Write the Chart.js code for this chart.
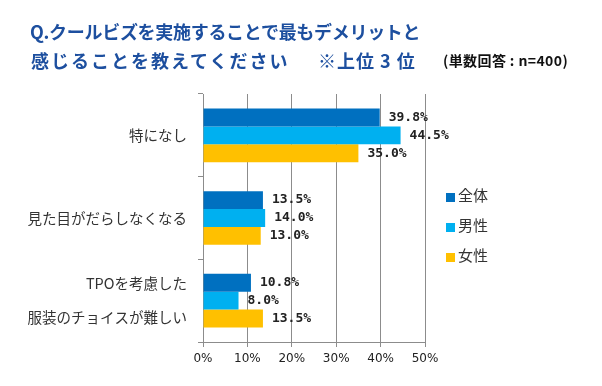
<!DOCTYPE html>
<html>
<head>
<meta charset="utf-8">
<script src="https://cdn.jsdelivr.net/npm/chart.js@4"></script>
<style>
  body { margin: 0; background: #fff; }
  #wrap { position: relative; width: 602px; height: 386px; }
  .ttl { position: absolute; left: 30px; font-family: "Noto Sans CJK JP", sans-serif; font-weight: bold; color: #1d4f9f; font-size: 18px; line-height: 1; white-space: nowrap; }
  .note { font-size: 14px; color: #111; letter-spacing: 0.4px; }
</style>
</head>
<body>
<div id="wrap">
  <div class="ttl" style="top:22px;letter-spacing:-0.3px">Q.クールビズを実施することで最もデメリットと</div>
  <div class="ttl" style="top:51px;left:31px;letter-spacing:2px">感じることを教えてください</div>
  <div class="ttl" style="top:51px;left:318px;letter-spacing:1px">※上位 3 位</div>
  <div class="ttl note" style="top:53px;left:443px">(単数回答 : n=400)</div>
  <canvas id="chart" width="602" height="386"></canvas>
</div>
<script>
const categories = ['特になし', '見た目がだらしなくなる', ['TPOを考慮した', '服装のチョイスが難しい']];
const seriesNames = ['全体', '男性', '女性'];
const allValues = [39.8, 13.5, 10.8];
const maleValues = [44.5, 14.0, 8.0];
const femaleValues = [35.0, 13.0, 13.5];
const xTicks = [0, 10, 20, 30, 40, 50];
const colors = ['#0070c0', '#00b0f0', '#ffc000'];

// value labels to the right of each bar
const valueLabels = {
  id: 'valueLabels',
  afterDatasetsDraw(chart) {
    const ctx = chart.ctx;
    ctx.save();
    ctx.font = 'bold 13px "DejaVu Sans Mono"';
    ctx.fillStyle = '#222';
    ctx.textBaseline = 'middle';
    chart.data.datasets.forEach((ds, i) => {
      chart.getDatasetMeta(i).data.forEach((bar, j) => {
        ctx.fillText(ds.data[j].toFixed(1) + '%', bar.x + 9, bar.y);
      });
    });
    ctx.restore();
  }
};

// vertical legend to the right of the plot
const sideLegend = {
  id: 'sideLegend',
  afterDraw(chart) {
    const ctx = chart.ctx;
    ctx.save();
    ctx.font = '15px "Noto Sans CJK JP"';
    ctx.textBaseline = 'middle';
    chart.data.datasets.forEach((ds, i) => {
      const y = 197 + i * 30;
      ctx.fillStyle = ds.backgroundColor;
      ctx.fillRect(446, y - 4, 9, 9);
      ctx.fillStyle = '#333';
      ctx.fillText(ds.label, 458, y - 2);
    });
    ctx.restore();
  }
};

new Chart(document.getElementById('chart').getContext('2d'), {
  type: 'bar',
  data: {
    labels: categories,
    datasets: [
      { label: seriesNames[0], data: allValues, backgroundColor: colors[0] },
      { label: seriesNames[1], data: maleValues, backgroundColor: colors[1] },
      { label: seriesNames[2], data: femaleValues, backgroundColor: colors[2] }
    ]
  },
  options: {
    indexAxis: 'y',
    responsive: false,
    animation: false,
    datasets: { bar: { categoryPercentage: 0.65, barPercentage: 1 } },
    layout: { padding: { top: 94, right: 177, left: 0, bottom: 0 } },
    plugins: {
      legend: { display: false },
      tooltip: { enabled: false }
    },
    scales: {
      x: {
        min: 0,
        max: 50,
        afterFit(scale) { scale.height = 44; },
        afterBuildTicks(scale) { scale.ticks = xTicks.map(v => ({ value: v })); },
        grid: { color: '#8c8c8c', tickLength: 5 },
        border: { color: '#8c8c8c' },
        ticks: {
          color: '#222',
          padding: 5,
          font: { family: 'DejaVu Sans', size: 12 },
          callback: v => v + '%'
        }
      },
      y: {
        afterFit(scale) { scale.width = 203; },
        grid: { drawOnChartArea: false, color: '#8c8c8c', tickLength: 5 },
        border: { color: '#8c8c8c' },
        ticks: {
          color: '#333',
          padding: 11,
          font: { family: 'Noto Sans CJK JP', size: 14.5, lineHeight: 2.35 }
        }
      }
    }
  },
  plugins: [valueLabels, sideLegend]
});
</script>
</body>
</html>
